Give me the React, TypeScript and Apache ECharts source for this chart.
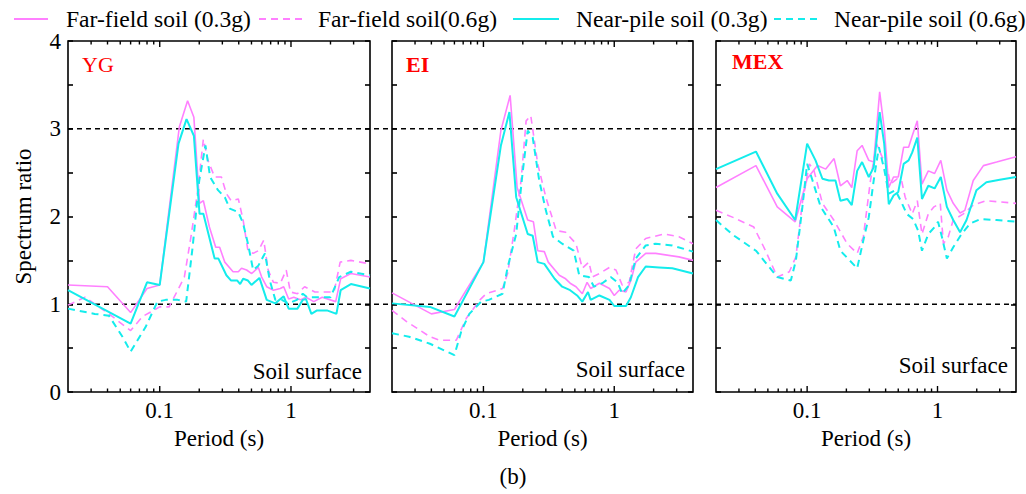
import React, { useEffect, useRef } from "react";
import * as echarts from "echarts";

// ---------- data ----------
const seriesNames = [
  "Far-field soil (0.3g)",
  "Far-field soil(0.6g)",
  "Near-pile soil (0.3g)",
  "Near-pile soil (0.6g)",
];
const panelNames = ["YG", "EI", "MEX"];
const xTickLabels = [0.1, 1];
const xMinorTicks = [0.03, 0.04, 0.05, 0.06, 0.07, 0.08, 0.09, 0.2, 0.3, 0.4, 0.5, 0.6, 0.7, 0.8, 0.9, 2, 3];
const refLevels = [1, 3];

const ygFar03 = [[0.02,1.22],[0.04,1.20],[0.06,0.905],[0.08,1.18],[0.1,1.22],[0.141,3.02],[0.163,3.32],[0.182,3.13],[0.201,2.15],[0.215,2.18],[0.239,1.88],[0.267,1.65],[0.286,1.65],[0.313,1.48],[0.362,1.37],[0.397,1.37],[0.42,1.41],[0.459,1.39],[0.502,1.35],[0.564,1.42],[0.598,1.31],[0.653,1.20],[0.735,1.16],[0.828,1.18],[0.88,1.20],[0.96,1.06],[1.05,1.08],[1.18,1.05],[1.30,1.08],[1.49,1.03],[1.73,1.08],[2.19,1.03],[2.39,1.29],[2.86,1.35],[4,1.31]];
const ygFar06 = [[0.02,0.99],[0.027,1.08],[0.041,0.89],[0.06,0.70],[0.074,0.86],[0.1,0.97],[0.118,0.97],[0.137,1.16],[0.154,1.31],[0.173,1.77],[0.195,2.30],[0.215,2.88],[0.233,2.64],[0.262,2.45],[0.295,2.45],[0.322,2.26],[0.35,2.18],[0.397,2.20],[0.432,1.96],[0.47,1.61],[0.515,1.58],[0.564,1.61],[0.62,1.73],[0.67,1.39],[0.735,1.25],[0.83,1.24],[0.92,1.39],[0.99,1.14],[1.12,1.12],[1.27,1.20],[1.52,1.14],[2.13,1.14],[2.37,1.48],[2.86,1.50],[4,1.46]];
const ygNear03 = [[0.02,1.16],[0.06,0.78],[0.08,1.25],[0.1,1.22],[0.139,2.83],[0.16,3.11],[0.182,2.92],[0.201,2.03],[0.215,2.03],[0.262,1.52],[0.28,1.52],[0.322,1.33],[0.35,1.27],[0.39,1.27],[0.41,1.23],[0.432,1.29],[0.47,1.27],[0.5,1.22],[0.575,1.30],[0.653,1.05],[0.76,1.01],[0.83,1.06],[0.88,1.09],[0.96,0.95],[1.12,0.95],[1.23,1.05],[1.30,1.06],[1.43,0.89],[1.58,0.93],[1.88,0.93],[2.22,0.89],[2.39,1.16],[2.86,1.23],[4,1.18]];
const ygNear06 = [[0.02,0.95],[0.032,0.89],[0.041,0.87],[0.052,0.63],[0.06,0.46],[0.078,0.74],[0.096,1.03],[0.111,1.05],[0.137,1.05],[0.159,1.03],[0.178,1.65],[0.2,2.41],[0.223,2.81],[0.242,2.45],[0.278,2.30],[0.313,2.22],[0.342,2.09],[0.397,2.05],[0.432,1.92],[0.47,1.69],[0.515,1.39],[0.564,1.44],[0.633,1.58],[0.69,1.27],[0.76,1.05],[0.85,1.05],[0.96,1.01],[1.11,1.05],[1.23,1.12],[1.33,1.08],[2.0,1.08],[2.33,1.31],[2.86,1.37],[4,1.33]];

const eiFar03 = [[0.02,1.13],[0.04,0.89],[0.06,0.94],[0.1,1.48],[0.136,2.98],[0.16,3.38],[0.181,2.33],[0.2,2.13],[0.218,1.96],[0.241,1.94],[0.26,1.61],[0.292,1.60],[0.313,1.48],[0.38,1.33],[0.425,1.29],[0.46,1.24],[0.51,1.20],[0.57,1.12],[0.62,1.25],[0.66,1.18],[0.77,1.24],[0.92,1.18],[1.0,1.10],[1.09,1.16],[1.23,1.14],[1.34,1.27],[1.46,1.48],[1.74,1.58],[2.07,1.58],[3.12,1.54],[4,1.50]];
const eiFar06 = [[0.02,0.93],[0.026,0.80],[0.039,0.63],[0.046,0.59],[0.062,0.59],[0.074,0.84],[0.094,1.05],[0.105,1.12],[0.14,1.18],[0.153,1.35],[0.172,1.84],[0.194,2.41],[0.212,3.09],[0.23,3.15],[0.26,2.60],[0.3,2.22],[0.36,1.84],[0.425,1.82],[0.51,1.69],[0.57,1.41],[0.64,1.48],[0.68,1.31],[0.77,1.35],[0.92,1.42],[1.03,1.39],[1.15,1.22],[1.30,1.25],[1.46,1.63],[1.74,1.75],[2.4,1.80],[3.12,1.77],[4,1.69]];
const eiNear03 = [[0.02,1.01],[0.039,0.97],[0.06,0.86],[0.1,1.48],[0.136,2.81],[0.158,3.19],[0.178,2.22],[0.218,1.80],[0.238,1.78],[0.26,1.48],[0.292,1.46],[0.35,1.29],[0.40,1.20],[0.46,1.16],[0.52,1.10],[0.57,1.03],[0.63,1.14],[0.66,1.05],[0.77,1.10],[0.92,1.05],[1.0,0.98],[1.23,0.98],[1.34,1.08],[1.52,1.31],[1.74,1.43],[2.2,1.42],[2.78,1.41],[4,1.35]];
const eiNear06 = [[0.02,0.67],[0.027,0.63],[0.039,0.55],[0.06,0.42],[0.068,0.70],[0.078,0.89],[0.096,1.03],[0.11,1.05],[0.14,1.12],[0.153,1.42],[0.178,1.80],[0.2,2.52],[0.218,2.98],[0.238,2.90],[0.267,2.41],[0.3,2.07],[0.34,1.77],[0.40,1.69],[0.49,1.61],[0.54,1.33],[0.64,1.31],[0.70,1.20],[0.81,1.24],[0.94,1.31],[1.06,1.25],[1.15,1.12],[1.30,1.22],[1.46,1.52],[1.74,1.67],[2.07,1.69],[2.78,1.67],[4,1.60]];

const mexFar03 = [[0.02,2.33],[0.0405,2.58],[0.059,2.11],[0.081,1.94],[0.1,2.43],[0.12,2.58],[0.139,2.54],[0.161,2.66],[0.18,2.35],[0.203,2.41],[0.22,2.33],[0.242,2.75],[0.264,2.81],[0.297,2.64],[0.324,2.62],[0.36,3.42],[0.392,2.98],[0.423,2.33],[0.46,2.45],[0.5,2.45],[0.55,2.79],[0.6,2.79],[0.64,2.92],[0.7,3.09],[0.76,2.37],[0.85,2.52],[0.95,2.49],[1.06,2.64],[1.18,2.30],[1.32,2.15],[1.49,2.04],[1.62,2.07],[1.88,2.41],[2.25,2.58],[2.84,2.62],[4,2.68]];
const mexFar06 = [[0.02,2.07],[0.027,1.99],[0.039,1.88],[0.048,1.61],[0.059,1.31],[0.073,1.37],[0.082,1.54],[0.092,2.16],[0.104,2.60],[0.113,2.52],[0.131,2.15],[0.16,1.96],[0.203,1.69],[0.242,1.58],[0.27,1.77],[0.306,2.41],[0.34,2.83],[0.376,2.68],[0.41,2.56],[0.435,2.37],[0.49,2.43],[0.53,2.41],[0.565,2.22],[0.64,2.03],[0.70,2.18],[0.76,1.80],[0.85,2.03],[0.94,2.11],[1.05,2.15],[1.11,1.69],[1.21,1.77],[1.32,1.96],[1.58,2.03],[1.88,2.13],[2.37,2.18],[4,2.15]];
const mexNear03 = [[0.02,2.54],[0.0405,2.74],[0.059,2.26],[0.081,1.96],[0.1,2.83],[0.116,2.64],[0.131,2.43],[0.147,2.41],[0.165,2.41],[0.18,2.18],[0.203,2.20],[0.22,2.13],[0.242,2.52],[0.264,2.62],[0.297,2.45],[0.324,2.56],[0.36,3.19],[0.39,2.83],[0.423,2.14],[0.46,2.24],[0.5,2.28],[0.55,2.60],[0.6,2.64],[0.64,2.73],[0.7,2.90],[0.76,2.20],[0.85,2.35],[0.95,2.32],[1.06,2.45],[1.18,2.11],[1.32,1.96],[1.49,1.82],[1.67,1.96],[1.99,2.30],[2.37,2.39],[3.0,2.42],[4,2.45]];
const mexNear06 = [[0.02,1.96],[0.027,1.79],[0.0405,1.61],[0.059,1.31],[0.075,1.27],[0.082,1.50],[0.092,2.11],[0.1,2.60],[0.11,2.41],[0.127,2.11],[0.16,1.88],[0.18,1.61],[0.242,1.41],[0.27,1.73],[0.297,1.99],[0.324,2.41],[0.355,2.79],[0.39,2.54],[0.423,2.26],[0.475,2.30],[0.53,2.16],[0.58,2.03],[0.65,1.97],[0.71,1.84],[0.76,1.61],[0.85,1.80],[0.95,1.88],[1.01,1.94],[1.08,1.77],[1.18,1.52],[1.32,1.65],[1.53,1.80],[1.78,1.92],[2.14,1.97],[2.84,1.96],[4,1.94]];

const panelData = [
  [ygFar03, ygFar06, ygNear03, ygNear06],
  [eiFar03, eiFar06, eiNear03, eiNear06],
  [mexFar03, mexFar06, mexNear03, mexNear06],
];

// ---------- style / layout ----------
const FONT = "Liberation Serif";
const MAGENTA = "#ff80ff";
const CYAN = "#14ecec";
const colors = [MAGENTA, MAGENTA, CYAN, CYAN];
const dashed = [false, true, false, true];
const widths = [1.6, 1.6, 2, 2];
const gridLefts = [68, 392, 716];
const gridWidths = [302, 301, 300];
const GRID_TOP = 41;
const GRID_H = 351;
const legendLayout = [
  { left: 8, w: 34, pad: 13 },
  { left: 253, w: 47, pad: 7 },
  { left: 507, w: 46, pad: 12 },
  { left: 768, w: 47, pad: 8 },
];
const titleLayout = [
  { left: 82, top: 53, bold: false },
  { left: 406, top: 53, bold: true },
  { left: 732, top: 50, bold: true },
];

function buildOption() {
  const grid: any[] = [];
  const xAxis: any[] = [];
  const yAxis: any[] = [];
  const series: any[] = [];

  for (let p = 0; p < 3; p++) {
    grid.push({
      left: gridLefts[p], top: GRID_TOP, width: gridWidths[p], height: GRID_H,
      show: true, borderColor: "#000", borderWidth: 1.6, backgroundColor: "transparent",
      containLabel: false,
    });
    xAxis.push({
      type: "log", logBase: 10, gridIndex: p, min: 0.02, max: 4,
      name: "Period (s)", nameLocation: "middle", nameGap: 35,
      nameTextStyle: { fontFamily: FONT, fontSize: 23, color: "#000" },
      axisLine: { show: false }, axisTick: { show: false }, splitLine: { show: false }, minorTick: { show: false },
      axisLabel: {
        show: true, showMinLabel: false, showMaxLabel: false, margin: 7,
        fontFamily: FONT, fontSize: 23, color: "#000",
        formatter: (v: number) => {
          const hit = xTickLabels.find((t) => Math.abs(t - v) / t < 1e-6);
          return hit !== undefined ? String(hit) : "";
        },
      },
    });
    const yCommon = {
      type: "value", gridIndex: p, min: 0, max: 4, interval: 0.5,
      splitLine: { show: false },
      axisLine: { show: false },
      axisTick: { show: true, inside: true, length: 5, lineStyle: { color: "#000", width: 1.6 } },
    };
    yAxis.push({
      ...yCommon, position: "left",
      name: p === 0 ? "Spectrum ratio" : "", nameLocation: "middle", nameGap: 33,
      nameTextStyle: { fontFamily: FONT, fontSize: 23, color: "#000" },
      axisLabel: {
        show: p === 0, margin: 7, fontFamily: FONT, fontSize: 23, color: "#000",
        formatter: (v: number) => (Number.isInteger(v) ? String(v) : ""),
      },
    });
    yAxis.push({ ...yCommon, position: "right", axisLabel: { show: false } });

    for (let s = 0; s < 4; s++) {
      series.push({
        type: "line", name: seriesNames[s], xAxisIndex: p, yAxisIndex: p * 2,
        data: panelData[p][s], symbol: "none", showSymbol: false, z: 3,
        lineStyle: { color: colors[s], width: widths[s], type: dashed[s] ? [7, 5] : "solid" },
        itemStyle: { color: colors[s] },
        silent: true,
      });
    }
    // x ticks (bottom and top, inward)
    series.push({
      type: "custom", xAxisIndex: p, yAxisIndex: p * 2, silent: true, z: 4, clip: false,
      data: [...xMinorTicks.map((v) => [v, 0]), ...xTickLabels.map((v) => [v, 1])],
      renderItem: (params: any, api: any) => {
        const v = api.value(0);
        const major = api.value(1) === 1;
        const b = api.coord([v, 0]);
        const t = api.coord([v, 4]);
        const len = major ? 6 : 3.5;
        const st = { stroke: "#000", lineWidth: 1.4 };
        return {
          type: "group",
          children: [
            { type: "line", shape: { x1: b[0], y1: b[1], x2: b[0], y2: b[1] - len }, style: st },
            { type: "line", shape: { x1: t[0], y1: t[1], x2: t[0], y2: t[1] + len }, style: st },
          ],
        };
      },
    });
  }

  // overlay grid spanning all panels for the dashed reference lines
  grid.push({ left: gridLefts[0], top: GRID_TOP, width: gridLefts[2] + gridWidths[2] - gridLefts[0], height: GRID_H, show: false });
  xAxis.push({ type: "value", gridIndex: 3, min: 0, max: 1, show: false });
  yAxis.push({ type: "value", gridIndex: 3, min: 0, max: 4, show: false });
  refLevels.forEach((lv) => {
    series.push({
      type: "line", xAxisIndex: 3, yAxisIndex: 6, silent: true, z: 1,
      data: [[0, lv], [1, lv]], symbol: "none",
      lineStyle: { color: "#000", width: 1.3, type: [5, 4] },
    });
  });

  const legend = seriesNames.map((n, i) => ({
    data: [n], left: legendLayout[i].left, top: 2, itemWidth: legendLayout[i].w, itemHeight: 24,
    selectedMode: false,
    itemStyle: { opacity: 0, borderWidth: 0 },
    textStyle: { fontFamily: FONT, fontSize: 23.6, color: "#000", padding: [0, 0, 0, legendLayout[i].pad] },
  }));

  const title = panelNames.map((n, i) => ({
    text: n, left: titleLayout[i].left, top: titleLayout[i].top, padding: 0,
    textStyle: { fontFamily: FONT, fontSize: 22, color: "#ff0000", fontWeight: titleLayout[i].bold ? "bold" : "normal" },
  }));

  const graphic: any[] = [];
  const soilY = [373, 371, 367];
  for (let p = 0; p < 3; p++) {
    graphic.push({
      type: "text", right: 1026 - (gridLefts[p] + gridWidths[p]) + 8, top: soilY[p] - 13,
      style: { text: "Soil surface", fontFamily: FONT, fontSize: 23, fill: "#000" },
    });
  }
  graphic.push({
    type: "text", left: "center", top: 465,
    style: { text: "(b)", fontFamily: FONT, fontSize: 23, fill: "#000" },
  });

  return {
    animation: false,
    backgroundColor: "#fff",
    title, legend, grid, xAxis, yAxis, series, graphic,
  };
}

export default function App() {
  const ref = useRef<HTMLDivElement>(null);
  useEffect(() => {
    document.body.style.margin = "0";
    const chart = echarts.init(ref.current!, null, { renderer: "svg" });
    chart.setOption(buildOption() as any);
    return () => chart.dispose();
  }, []);
  return <div ref={ref} style={{ width: 1026, height: 494 }} />;
}
